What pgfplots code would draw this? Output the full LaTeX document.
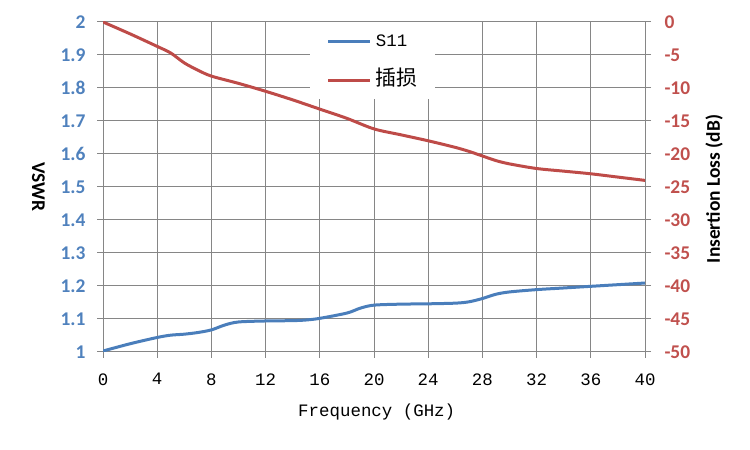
\documentclass[border=0pt]{standalone}
\usepackage{pgfplots}
\pgfplotsset{compat=1.18}
\usepackage{fontspec}
\setmainfont{Carlito}
\newfontfamily\monof{Liberation Mono}
\newfontfamily\cjk{Noto Sans CJK SC}
\definecolor{sblue}{HTML}{4A7EBB}
\definecolor{sred}{HTML}{BE4B48}
\definecolor{tblue}{HTML}{4F81BD}
\definecolor{tred}{HTML}{C0504D}
\definecolor{gridc}{HTML}{868686}
\begin{document}
\begin{tikzpicture}[x=1bp,y=1bp]
\path[use as bounding box] (0,0) rectangle (750,450);
\begin{axis}[
  at={(103bp,98bp)}, anchor=south west, scale only axis,
  width=542bp, height=330bp,
  xmin=0, xmax=40, ymin=1, ymax=2,
  xtick={0,4,8,12,16,20,24,28,32,36,40},
  ytick={1,1.1,1.2,1.3,1.4,1.5,1.6,1.7,1.8,1.9,2},
  yticklabels={1,1.1,1.2,1.3,1.4,1.5,1.6,1.7,1.8,1.9,2},
  xticklabels={0,4,8,12,16,20,24,28,32,36,40},
  grid=major, major grid style={gridc, line width=1bp},
  axis lines*=left,
  axis line style={gridc, line width=1bp},
  tick style={gridc, line width=1bp},
  tick align=outside, major tick length=6bp,
  xtick pos=bottom, ytick pos=left,
  yticklabel style={font=\fontsize{19.5}{19.5}\selectfont\bfseries, text=tblue, anchor=east, xshift=-8bp},
  xticklabel style={font=\monof\fontsize{17.5}{17.5}\selectfont, text=black, anchor=north, yshift=-12bp},
  xlabel={\monof Frequency (GHz)},
  xlabel style={font=\fontsize{17.5}{17.5}\selectfont, anchor=center, at={(axis description cs:0.505,-0.182)}},
  ylabel={VSWR},
  ylabel style={font=\fontsize{19.5}{19.5}\selectfont\bfseries, anchor=center, rotate=180, at={(axis description cs:-0.119,0.5)}},
]
\addplot[sblue, line width=3bp, smooth] coordinates {
(0,1.003) (2,1.025) (4,1.044) (5,1.051) (6,1.054) (7,1.059) (8,1.067) (9,1.082)
(10,1.091) (12,1.094) (14,1.095) (15,1.097) (16,1.102) (18,1.118) (19,1.133)
(20,1.142) (22,1.145) (24,1.146) (26,1.148) (27,1.152) (28,1.162) (29,1.175)
(30,1.182) (32,1.189) (34,1.194) (36,1.199) (38,1.204) (40,1.209)};
\end{axis}
\begin{axis}[
  at={(103bp,98bp)}, anchor=south west, scale only axis,
  width=542bp, height=330bp,
  xmin=0, xmax=40, ymin=-50, ymax=0,
  axis x line=none, axis y line*=right,
  axis line style={gridc, line width=1bp},
  tick style={gridc, line width=1bp},
  tick align=outside, major tick length=6bp,
  ytick={-50,-45,-40,-35,-30,-25,-20,-15,-10,-5,0},
  yticklabels={-50,-45,-40,-35,-30,-25,-20,-15,-10,-5,0},
  yticklabel style={font=\fontsize{19.5}{19.5}\selectfont\bfseries, text=tred, anchor=west, xshift=10bp},
  ylabel={Insertion Loss (dB)},
  ylabel style={font=\fontsize{19.5}{19.5}\selectfont\bfseries, anchor=center, at={(axis description cs:1.1273,0.494)}},
  legend style={at={(axis description cs:0.3815,1)}, anchor=north west, fill=white, draw=none,
    inner xsep=17bp, inner ysep=10bp, row sep=21bp, column sep=4bp,
    nodes={inner sep=0pt, text height=14bp, text depth=4bp}},
  legend cell align=left,
  legend image code/.code={\draw[#1] (0bp,0bp) -- (42bp,0bp);},
]
\addlegendimage{sblue, line width=3bp}
\addlegendentry{\monof\fontsize{17.5}{17.5}\selectfont S11}
\addplot[sred, line width=3bp, smooth] coordinates {
(0,0) (2,-1.8) (4,-3.7) (5,-4.7) (6,-6.2) (7,-7.3) (8,-8.2) (10,-9.3) (12,-10.5)
(14,-11.8) (16,-13.2) (18,-14.6) (20,-16.2) (22,-17.1) (24,-18.0) (26,-19.0)
(27,-19.6) (28,-20.3) (29,-21.0) (30,-21.5) (32,-22.2) (34,-22.6) (36,-23.0)
(38,-23.5) (40,-24.0)};
\addlegendentry{\cjk\fontsize{21}{21}\selectfont 插损}
\end{axis}
\end{tikzpicture}
\end{document}
